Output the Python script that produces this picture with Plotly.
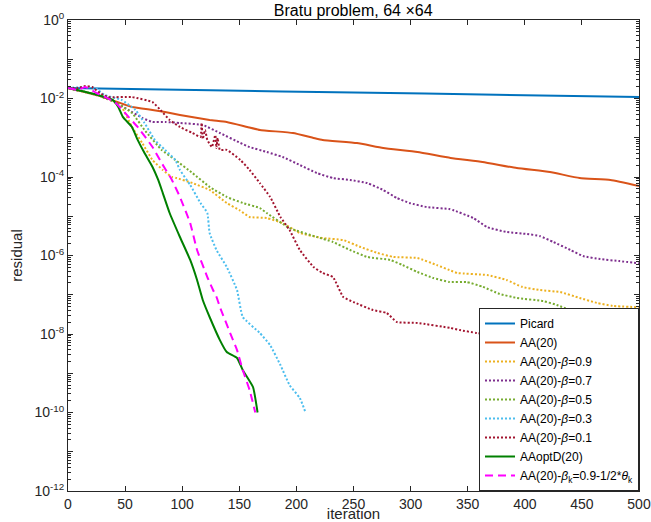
import plotly.graph_objects as go

# iteration / residual (log y axis)
it_picard = [0, 125, 250, 375, 500]
res_picard = [1.85e-2, 1.62e-2, 1.42e-2, 1.25e-2, 1.1e-2]

it_aa = [0, 28, 56, 74, 85, 98, 124, 139, 157, 168, 197, 215, 223, 253, 276, 306,
         335, 363, 393, 422, 448, 475, 500]
res_aa = [1.85e-2, 1.16e-2, 6.1e-3, 5.1e-3, 4.5e-3, 3.8e-3, 2.83e-3, 2.52e-3, 1.88e-3,
          1.58e-3, 1.32e-3, 9.9e-4, 8.8e-4, 7.35e-4, 5.5e-4, 4.34e-4, 3.05e-4, 2.41e-4,
          1.69e-4, 1.34e-4, 9.4e-5, 8.4e-5, 5.9e-5]

it_b09 = [0, 28, 41, 47, 56, 65, 74, 83, 91, 95, 109, 124, 139, 150, 159, 174, 188, 203,
          223, 241, 256, 271, 285, 306, 323, 334, 341, 367, 384, 398, 413, 431, 448, 463,
          477, 500]
res_b09 = [1.85e-2, 1.16e-2, 8.1e-3, 6.1e-3, 1.88e-3, 7.35e-4, 2.71e-4, 1.51e-4, 1.0e-4,
           9.4e-5, 7.0e-5, 4.67e-5, 2.18e-5, 1.44e-5, 9.6e-6, 9.0e-6, 6.7e-6, 3.74e-6,
           2.79e-6, 2.48e-6, 1.65e-6, 1.16e-6, 9.2e-7, 8.6e-7, 5.7e-7, 4.27e-7, 3.58e-7,
           3.18e-7, 2.38e-7, 1.57e-7, 1.32e-7, 1.17e-7, 8.3e-8, 6.2e-8, 5.2e-8, 4.8e-8]

it_b07 = [0, 28, 41, 53, 65, 74, 85, 98, 118, 133, 151, 159, 174, 188, 203, 218, 232, 247,
          262, 276, 288, 299, 314, 334, 337, 355, 367, 384, 402, 413, 425, 440, 451, 466,
          483, 500]
res_b07 = [1.85e-2, 1.16e-2, 8.1e-3, 5.1e-3, 3.2e-3, 2.52e-3, 2.52e-3, 2.38e-3, 2.11e-3,
           1.32e-3, 7.35e-4, 5.8e-4, 4.34e-4, 3.23e-4, 2.02e-4, 1.26e-4, 9.4e-5, 8.4e-5,
           7.0e-5, 4.67e-5, 2.92e-5, 2.18e-5, 1.72e-5, 1.53e-5, 1.44e-5, 9.0e-6, 5.3e-6,
           3.97e-6, 3.53e-6, 3.14e-6, 2.21e-6, 1.38e-6, 9.7e-7, 8.1e-7, 7.2e-7, 6.3e-7]

it_b05 = [0, 28, 41, 56, 67, 82, 94, 109, 124, 139, 153, 168, 174, 194, 218, 232, 247, 262,
          282, 293, 306, 320, 334, 349, 363, 378, 393, 416, 428, 446, 460, 481, 500]
res_b05 = [1.85e-2, 1.16e-2, 8.1e-3, 4.3e-3, 1.58e-3, 4.9e-4, 2.71e-4, 1.26e-4, 5.6e-5,
           3.1e-5, 2.18e-5, 1.62e-5, 1.21e-5, 5.0e-6, 2.96e-6, 2.21e-6, 1.38e-6, 9.2e-7,
           7.7e-7, 5.7e-7, 3.8e-7, 2.67e-7, 2.11e-7, 2.11e-7, 1.6e-7, 1.05e-7, 8.3e-8,
           6.9e-8, 5.5e-8, 3.43e-8, 2.88e-8, 2.71e-8, 2.0e-8]

it_b03 = [0, 15, 24, 32, 47, 59, 67, 76, 85, 94, 98, 107, 116, 122, 124, 130, 139, 148,
          153, 168, 177, 186, 194, 203, 208]
res_b03 = [1.85e-2, 1.96e-2, 1.85e-2, 1.23e-2, 9.2e-3, 5.1e-3, 2.38e-3, 8.8e-4, 4.9e-4,
           2.71e-4, 1.51e-4, 6.25e-5, 2.18e-5, 1.21e-5, 3.74e-6, 1.38e-6, 5.1e-7, 1.32e-7,
           2.71e-8, 1.06e-8, 5.2e-9, 1.62e-9, 5.0e-10, 2.34e-10, 1.0e-10]

it_b01 = [0, 9, 15, 21, 28, 35, 56, 74, 81, 89, 98, 109, 116, 117, 118, 120, 122, 126,
          129, 130, 131, 133, 139, 151, 159, 168, 177, 186, 194, 203, 215, 223, 232, 241,
          250, 267, 279, 288, 306, 335, 343, 358, 400, 450, 500]
res_b01 = [1.85e-2, 1.85e-2, 2.08e-2, 1.96e-2, 1.38e-2, 1.09e-2, 1.09e-2, 8.1e-3, 5.1e-3,
           2.83e-3, 1.88e-3, 1.32e-3, 1.05e-3, 2.38e-3, 9.3e-4, 1.58e-3, 8.8e-4, 5.8e-4,
           1.17e-3, 5.5e-4, 9.9e-4, 4.9e-4, 4.9e-4, 2.71e-4, 1.51e-4, 7.0e-5, 3.1e-5,
           9.6e-6, 4.47e-6, 1.38e-6, 5.1e-7, 3.58e-7, 2.83e-7, 8.8e-8, 6.5e-8, 4.08e-8,
           3.43e-8, 2.02e-8, 1.91e-8, 1.42e-8, 1.26e-8, 1.06e-8, 8.0e-9, 5.5e-9, 4.0e-9]

it_opt = [0, 8, 26, 39, 44, 48, 56, 61, 67, 74, 79, 83, 89, 98, 107, 113, 118, 124, 133,
          139, 148, 153, 162, 166]
res_opt = [1.85e-2, 1.65e-2, 1.23e-2, 9.2e-3, 6.1e-3, 3.4e-3, 1.88e-3, 8.8e-4, 4.08e-4,
           1.8e-4, 8.4e-5, 3.9e-5, 1.21e-5, 2.96e-6, 7.7e-7, 2.38e-7, 7.35e-8, 2.71e-8,
           7.0e-9, 3.48e-9, 2.45e-9, 1.21e-9, 4.47e-10, 1.0e-10]

it_bk = [0, 9, 15, 25, 41, 53, 61, 74, 82, 91, 98, 107, 113, 122, 127, 130, 133, 142, 148,
         153, 159, 164]
res_bk = [1.85e-2, 1.65e-2, 1.96e-2, 1.38e-2, 8.1e-3, 3.4e-3, 1.88e-3, 5.8e-4, 2.27e-4,
          8.4e-5, 3.1e-5, 6.7e-6, 1.38e-6, 2.83e-7, 1.32e-7, 8.8e-8, 4.9e-8, 1.06e-8,
          3.9e-9, 1.21e-9, 3.74e-10, 1.0e-10]

series = [
    ("Picard", it_picard, res_picard, "#0072BD", "solid", 2),
    ("AA(20)", it_aa, res_aa, "#D95319", "solid", 2),
    ("AA(20)-<i>β</i>=0.9", it_b09, res_b09, "#EDB120", "2px,2px", 2),
    ("AA(20)-<i>β</i>=0.7", it_b07, res_b07, "#7E2F8E", "2px,2px", 2),
    ("AA(20)-<i>β</i>=0.5", it_b05, res_b05, "#77AC30", "2px,2px", 2),
    ("AA(20)-<i>β</i>=0.3", it_b03, res_b03, "#4DBEEE", "2px,2px", 2),
    ("AA(20)-<i>β</i>=0.1", it_b01, res_b01, "#A2142F", "2px,2px", 2),
    ("AAoptD(20)", it_opt, res_opt, "#008000", "solid", 2),
    ("AA(20)-<i>β</i><sub>k</sub>=0.9-1/2*<i>θ</i><sub>k</sub>", it_bk, res_bk,
     "#FF00FF", "8px,5px", 2),
]

fig = go.Figure()
for name, x, y, color, dash, w in series:
    fig.add_trace(go.Scatter(
        x=x, y=y, mode="lines", name=name,
        line=dict(color=color, dash=dash, width=w, shape="spline", smoothing=0.4)
    ))

decades = list(range(0, -13, -1))
major_vals = [10.0 ** d for d in decades]
major_text = ["10<sup>%d</sup>" % d if d % 2 == 0 else "" for d in decades]
minor_vals = [m * 10.0 ** d for d in range(-12, 0) for m in range(2, 10)]

axis_style = dict(
    showline=True, linecolor="#262626", linewidth=1, mirror="ticks",
    ticks="inside", tickcolor="#262626", ticklen=5, showgrid=False, zeroline=False,
    tickfont=dict(size=14, color="#262626"), ticklabeloverflow="allow",
)

fig.update_layout(
    width=651, height=522,
    margin=dict(l=68, r=12, t=20, b=31),
    paper_bgcolor="white", plot_bgcolor="white",
    font=dict(family="Liberation Sans, Arial, sans-serif", color="#262626", size=14),
    title=dict(text="Bratu problem, 64 ×64", x=0.5425, xanchor="center",
               y=0.981, yanchor="middle", font=dict(size=16, color="#000000")),
    xaxis=dict(range=[0, 500], tickvals=list(range(0, 501, 50)), automargin=False,
               title=dict(text="iteration", standoff=0, font=dict(size=15)),
               **axis_style),
    yaxis=dict(type="log", range=[-12, 0], tickvals=major_vals, ticktext=major_text,
               automargin=False,
               minor=dict(tickvals=minor_vals, ticks="inside", ticklen=3,
                          tickcolor="#262626"),
               title=dict(text="residual", standoff=8, font=dict(size=15)),
               **axis_style),
    legend=dict(x=1, xanchor="right", y=0, yanchor="bottom",
                bgcolor="white", bordercolor="#262626", borderwidth=1,
                font=dict(size=12, color="#000000"), itemwidth=30,
                tracegroupgap=0),
    showlegend=True,
)

# drop the page's default body margin so the figure sits at the window origin
fig.write_html("out.html", config={"displayModeBar": False},
               post_script="document.body.style.margin='0px';"
                           "document.body.style.overflow='hidden';")
